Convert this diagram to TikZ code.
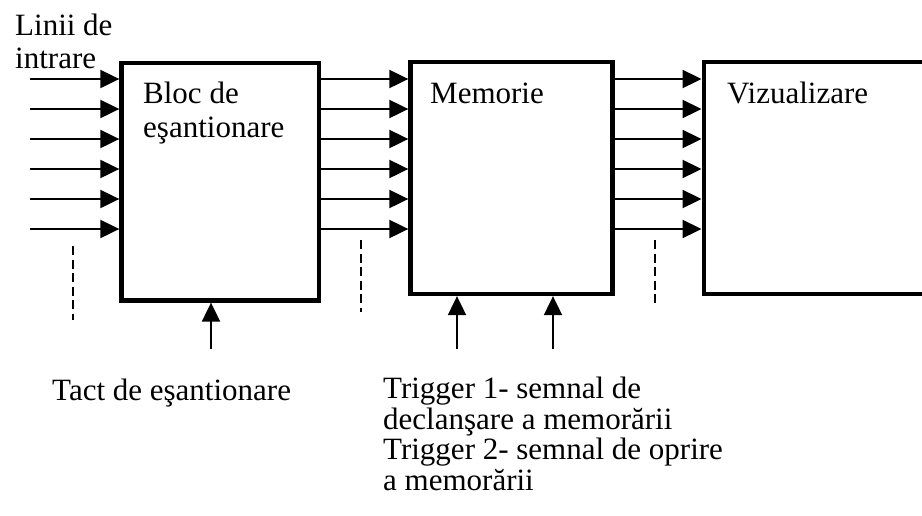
\documentclass[tikz,border=0pt]{standalone}
\usepackage{fontspec}
\setmainfont{Liberation Serif}
\usetikzlibrary{arrows.meta}

\tikzset{
  blk/.style={draw, line width=4.3pt, inner sep=0pt, anchor=north west},
  sig/.style={line width=2pt, -{Triangle[length=19pt,width=18pt]}},
  cutline/.style={line width=2pt, dash pattern=on 9pt off 4.5pt},
  txt/.style={anchor=base west, inner sep=0pt, font=\fontsize{31}{31}\selectfont}
}

\begin{document}
\begin{tikzpicture}[x=1pt,y=-1pt]
      \clip (0,0) rectangle (922,515);
      % blocuri
      \node[blk, minimum width=197.2pt, minimum height=237.5pt] (esant) at (119.35,60.85) {};
      \node[blk, minimum width=202pt, minimum height=232pt] (mem) at (408.35,59.85) {};
      \node[blk, minimum width=240pt, minimum height=232pt] (viz) at (701.55,59.85) {};
      % texte
      \node[txt] (linii) at (15,35) {Linii de};
      \node[txt] (intr) at (15,68) {intrare};
      \node[txt] (bloc) at (143,103) {Bloc de};
      \node[txt] (esantt) at (143,137) {eşantionare};
      \node[txt] (memt) at (430,103) {Memorie};
      \node[txt] (vizt) at (727,103) {Vizualizare};
      \node[txt] (tact) at (52,400) {Tact de eşantionare};
      \node[txt] (trig1) at (383,398) {Trigger 1- semnal de};
      \node[txt] (trig1b) at (383,429) {declanşare a memorării};
      \node[txt] (trig2) at (383,459) {Trigger 2- semnal de oprire};
      \node[txt] (trig2b) at (383,490) {a memorării};
      % linii de date
      \foreach \i in {0,...,5} {
        \coordinate (in\i) at (30,{79+30*\i});
        \draw[sig] (in\i) -- (in\i -| esant.west);
        \draw[sig] (esant.east |- in\i) -- (mem.west |- in\i);
        \draw[sig] (mem.east |- in\i) -- (viz.west |- in\i);
      }
      \draw[cutline] (72.7,246) -- (72.7,320);
      \draw[cutline] (361,240) -- (361,312);
      \draw[cutline] (655,240) -- (655,304);
      % tact si trigger
      \coordinate (ck) at (211,349);
      \coordinate (tg1) at (457,349);
      \coordinate (tg2) at (553,349);
      \draw[sig] (ck) -- (ck |- esant.south);
      \draw[sig] (tg1) -- (tg1 |- mem.south);
      \draw[sig] (tg2) -- (tg2 |- mem.south);
\end{tikzpicture}
\end{document}
